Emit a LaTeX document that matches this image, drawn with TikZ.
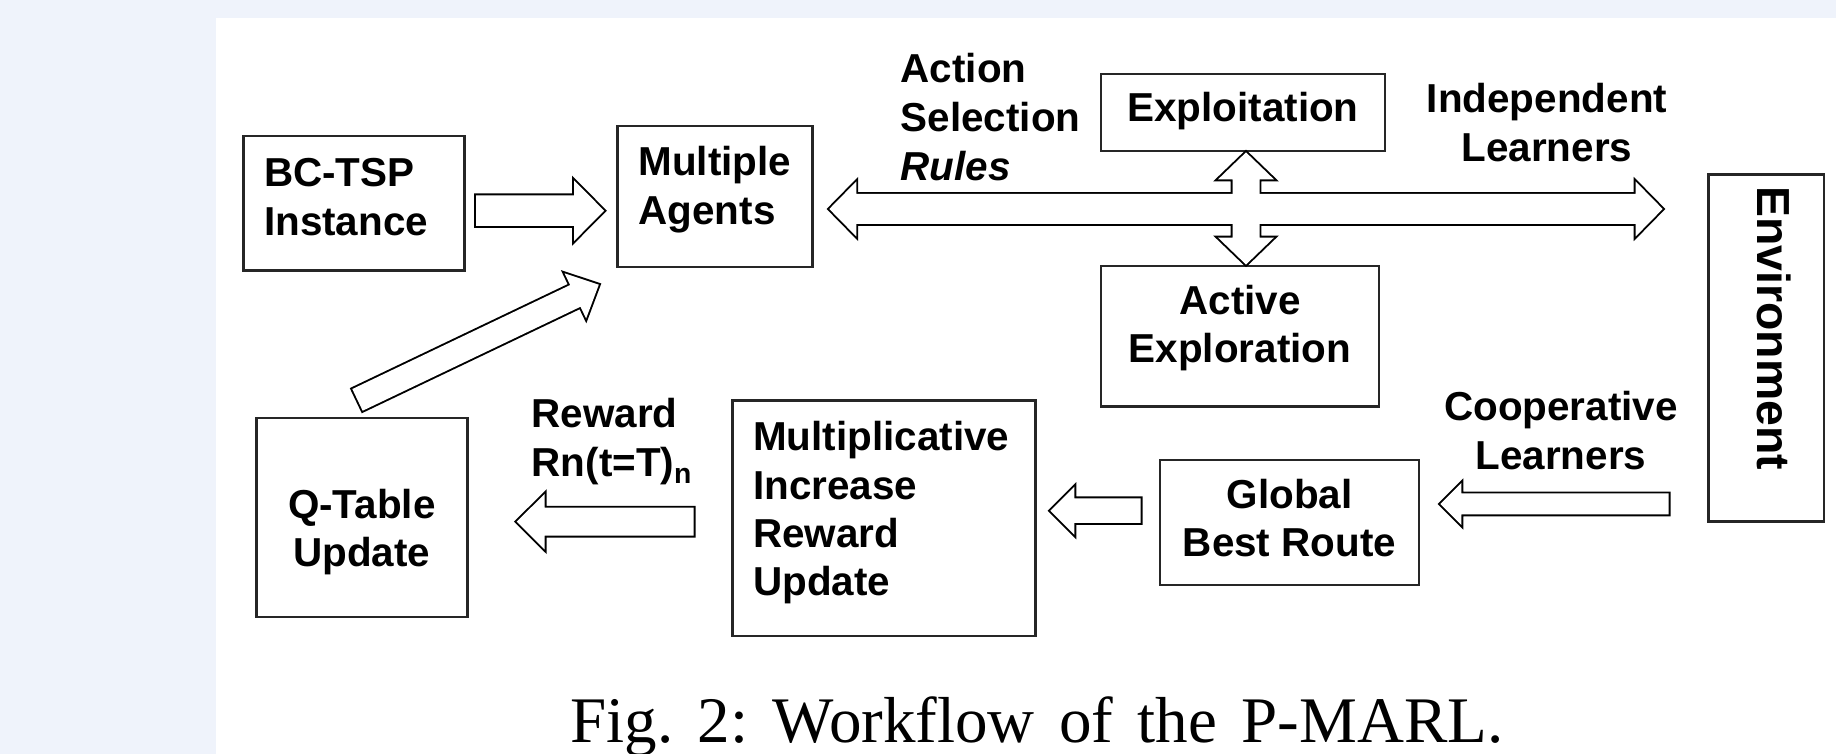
\documentclass[tikz,border=0pt]{standalone}
\usepackage{fontspec}
\setmainfont{Liberation Serif}
\setsansfont{Liberation Sans}
\usetikzlibrary{calc}
\definecolor{bgblue}{RGB}{239,243,251}

% 空心箭头: 样式, 起点, 终点, 杆半宽, 头半宽, 头长
\newcommand{\hollowarrow}[6]{%
  \coordinate (hb) at ($(#3)!#6!(#2)$);
  \path[#1] ($(#2)!#4!90:(#3)$) -- ($(hb)!#4!90:(#3)$) -- ($(hb)!#5!90:(#3)$)
    -- (#3) -- ($(hb)!#5!-90:(#3)$) -- ($(hb)!#4!-90:(#3)$)
    -- ($(#2)!#4!-90:(#3)$) -- cycle;
}
% 双向空心箭头
\newcommand{\hollowdarrow}[6]{%
  \coordinate (ha) at ($(#2)!#6!(#3)$);
  \coordinate (hb) at ($(#3)!#6!(#2)$);
  \path[#1] (#2) -- ($(ha)!#5!90:(#3)$) -- ($(ha)!#4!90:(#3)$)
    -- ($(hb)!#4!90:(#3)$) -- ($(hb)!#5!90:(#3)$) -- (#3)
    -- ($(hb)!#5!-90:(#3)$) -- ($(hb)!#4!-90:(#3)$)
    -- ($(ha)!#4!-90:(#3)$) -- ($(ha)!#5!-90:(#3)$) -- cycle;
}

\begin{document}
\begin{tikzpicture}[x=0.1mm, y=-0.1mm,
    box/.style={draw=black!85, line width=0.8pt, inner sep=0pt,
      font=\sffamily\bfseries\fontsize{11.5}{13.7}\selectfont},
    lbl/.style={inner sep=0pt, font=\sffamily\bfseries\fontsize{11.5}{13.9}\selectfont},
    aline/.style={draw=black, line width=1.1pt},
    afill/.style={fill=white}]
    \useasboundingbox (0,0) rectangle (1836,754);
    \fill[bgblue] (0,0) rectangle (1836,754);
    \fill[white] (216,18) rectangle (1836,754);

    % 方框
    \node[box, text width=18mm, inner xsep=2.05mm, minimum height=13.45mm, align=left, text height=0pt, text depth=3.26mm] (tsp) at (354.1,203.3) {BC-TSP\\Instance};
    \node[box, text width=15.3mm, inner xsep=2.1mm, minimum height=14.1mm, align=left, text height=0pt, text depth=4.1mm] (agents) at (715,196.5) {Multiple\\Agents};
    \node[box, minimum width=28.4mm, minimum height=7.7mm, text height=1.9mm, text depth=0pt] (exploit) at (1243,112.5) {Exploitation};
    \node[box, minimum width=27.8mm, minimum height=14.07mm, align=center, text height=5.34mm, text depth=0pt] (explore) at (1240,336.3) {Active\\Exploration};
    \node[box, rotate=-90, text width=32.4mm, inner xsep=1.15mm, minimum height=11.57mm, align=left,
      text height=3.4mm, text depth=1.7mm,
      font=\sffamily\bfseries\fontsize{13.2}{15}\selectfont] (env) at (1766.2,348.4) {Environment};
    \node[box, minimum width=21.1mm, minimum height=19.9mm, align=center, text height=9.88mm, text depth=0pt] (qtable) at (361.8,517.6) {Q-Table\\Update};
    \node[box, text width=26.14mm, inner xsep=2.1mm, minimum height=23.53mm, align=left, text height=0pt, text depth=13.48mm] (mult) at (884,518.4) {Multiplicative\\Increase\\Reward\\Update};
    \node[box, minimum width=25.9mm, minimum height=12.5mm, align=center, text height=6.84mm, text depth=0pt] (gbr) at (1289.5,522.5) {Global\\Best Route};

    % 文字
    \node[lbl, anchor=north west, align=left] (action) at (900,53) {Action\\Selection\\\textit{Rules}};
    \node[lbl, anchor=north, align=center] (indep) at (1547,83) {Independent\\Learners};
    \node[lbl, anchor=north, align=center] (coop) at (1561,391) {Cooperative\\Learners};
    \node[lbl, anchor=north west, align=left] (reward) at (531,398) {Reward\\Rn(t=T)\textsubscript{n}};
    \node[anchor=base, inner sep=0pt, font=\fontsize{18.5}{21}\selectfont\frenchspacing] (caption) at (1037,743)
      {\makebox[93.3mm][s]{Fig. 2: Workflow of the P-MARL.}};

    % 箭头端点
    \coordinate (a1s) at ($(tsp.east)+(10,7.4)$);
    \coordinate (a1e) at ($(agents.west |- a1s)+(-12,0)$);
    \coordinate (a2l) at ($(agents.east)+(15.4,12.5)$);
    \coordinate (a2r) at ($(env.south |- a2l)+(-44.3,0)$);
    \coordinate (a3t) at ($(exploit.south)+(3,0)$);
    \coordinate (a3b) at (a3t |- explore.north);
    \coordinate (a4s) at ($(qtable.north)+(-4.3,-16.8)$);
    \coordinate (a4e) at ($(agents.south west)+(-17.3,16.3)$);
    \coordinate (a5e) at ($(gbr.east)+(20,-18.5)$);
    \coordinate (a5s) at ($(env.south |- a5e)+(-38.3,0)$);
    \coordinate (a6s) at ($(gbr.west)+(-18,-11.8)$);
    \coordinate (a6e) at ($(mult.east |- a6s)+(13.3,0)$);
    \coordinate (a7s) at ($(mult.west)+(-37.3,3.3)$);
    \coordinate (a7e) at ($(qtable.east |- a7s)+(48,0)$);

    % 箭头: 先描边, 再填白
    \foreach \st in {aline, afill} {
        \hollowarrow{\st}{a1s}{a1e}{1.53mm}{3.03mm}{3mm}
        \hollowdarrow{\st}{a2l}{a2r}{1.5mm}{2.75mm}{2.7mm}
        \hollowdarrow{\st}{a3t}{a3b}{1.35mm}{2.8mm}{2.7mm}
        \hollowarrow{\st}{a4s}{a4e}{1.2mm}{2.5mm}{2.6mm}
        \hollowarrow{\st}{a5s}{a5e}{1.05mm}{2.1mm}{2.1mm}
        \hollowarrow{\st}{a6s}{a6e}{1.23mm}{2.4mm}{2.4mm}
        \hollowarrow{\st}{a7s}{a7e}{1.4mm}{2.78mm}{2.8mm}
    }
\end{tikzpicture}
\end{document}
